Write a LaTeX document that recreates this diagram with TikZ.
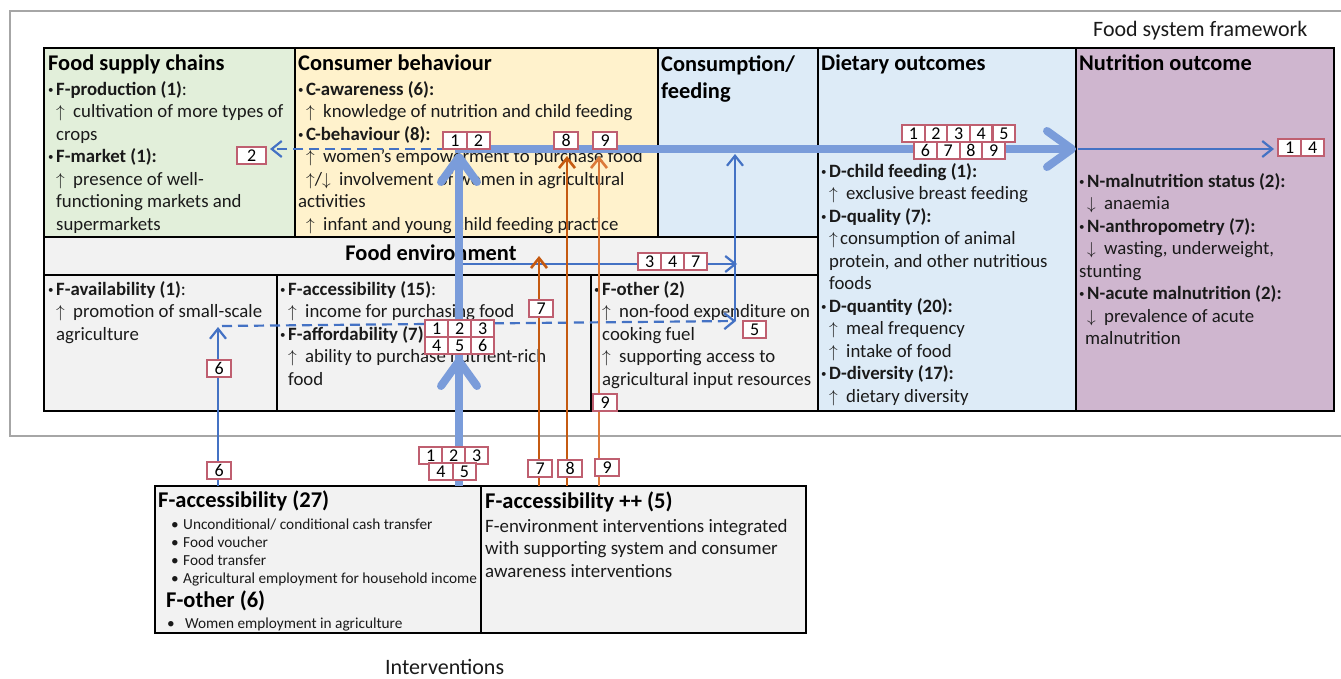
\documentclass[tikz,border=0pt]{standalone}
\usepackage{fontspec}
\setmainfont{Carlito}
\usetikzlibrary{arrows.meta}
\definecolor{cgreen}{HTML}{E2EFDA}
\definecolor{cyellow}{HTML}{FFF2CC}
\definecolor{cblue}{HTML}{DDEBF7}
\definecolor{cpurple}{HTML}{CFB6CF}
\definecolor{cgray}{HTML}{F2F2F2}
\definecolor{cframe}{HTML}{A6A6A6}
\definecolor{bthick}{HTML}{7A9CDA}
\definecolor{bthin}{HTML}{4472C4}
\definecolor{corange}{HTML}{C55A11}
\definecolor{corangeb}{HTML}{DC7A3A}
\definecolor{clbl}{HTML}{BF5F70}
\definecolor{ctxt}{HTML}{1A1A1A}
\newcommand\myup{\makebox[17pt][l]{$\uparrow$}}
\newcommand\mydn{\makebox[17pt][l]{$\downarrow$}}
\newcommand\myupc{\makebox[11pt][l]{$\uparrow$}}
\newcommand\mybul[1]{\makebox[8pt][l]{\raisebox{2pt}{\fontsize{11}{11}\selectfont\textbullet}}\textbf{#1}}
\newcommand\ind{\hspace*{8pt}}
\newcommand\cellrow[5]{\foreach \lab [count=\cc from 0] in {#5}{\node[lbl, minimum width=#4pt] (#1\lab) at ({#2+\cc*#4},#3) {\lab};}}
\tikzset{
 box/.style={draw=black, line width=1.8pt},
 body/.style={anchor=north west, inner sep=0pt, align=left, text=ctxt, font=\fontsize{18.8}{22.5}\selectfont},
 ttl/.style={anchor=base west, inner sep=0pt, text=black, font=\fontsize{22.4}{27}\selectfont\bfseries},
 lbl/.style={draw=clbl, line width=2.2pt, fill=white, minimum height=17pt, inner sep=0pt, anchor=north west, text=black, font=\fontsize{18}{18}\selectfont},
 thinb/.style={draw=bthin, line width=2.2pt, -{Straight Barb[length=10pt,width=16pt]}},
 dashb/.style={thinb, dash pattern=on 10pt off 6pt},
 orar/.style={draw=corange, line width=2.6pt, -{Straight Barb[length=10pt,width=16pt]}},
 thickb/.style={draw=bthick, line width=8pt, -{Straight Barb[length=25pt,width=36pt,round]}},
}
\begin{document}
\begin{tikzpicture}[x=1pt,y=-1pt]
\useasboundingbox (0,0) rectangle (1341,679);
% outer frame
\draw[cframe, line width=2.4pt] (1360,11) -- (10,11) -- (10,436) -- (1360,436);
\node[anchor=base west, inner sep=0pt, text=ctxt, font=\fontsize{22}{26}\selectfont] (fsf) at (1093,37) {Food system framework};
% boxes
\draw[box, fill=cgreen] (44,48) rectangle (295,237);
\draw[box, fill=cyellow] (295,48) rectangle (658,237);
\draw[box, fill=cblue] (658,48) rectangle (818,237);
\draw[box, fill=cblue] (818,48) rectangle (1076,411);
\draw[box, fill=cpurple] (1076,48) rectangle (1334,411);
\draw[box, fill=cgray] (44,237) rectangle (818,275);
\draw[box, fill=cgray] (44,275) rectangle (277,411);
\draw[box, fill=cgray] (277,275) rectangle (591,411);
\draw[box, fill=cgray] (591,275) rectangle (818,411);
% titles
\node[ttl] (fsc-t) at (48,71) {Food supply chains};
\node[ttl] (cb-t) at (298,71) {Consumer behaviour};
\node[ttl, anchor=north west, align=left] (cf-t) at (661,52.1) {\strut Consumption/\\feeding};
\node[ttl] (do-t) at (821,71) {Dietary outcomes};
\node[ttl] (no-t) at (1079,71) {Nutrition outcome};
\node[ttl, anchor=base] (fe-t) at (431,260) {Food environment};
% bodies
\node[body] (fsc-b) at (48,79.25) {\strut\mybul{F-production (1)}:\\
\ind\myup cultivation of more types of\\
\ind crops\\
\mybul{F-market (1):}\\
\ind\myup presence of well-\\
\ind functioning markets and\\
\ind supermarkets};
\node[body] (cb-b) at (298,79.25) {\strut\mybul{C-awareness (6):}\\
\ind\myup knowledge of nutrition and child feeding\\
\mybul{C-behaviour (8):}\\
\ind\myup women's empowerment to purchase food\\
\ind$\uparrow$/\mydn involvement of women in agricultural\\
activities\\
\ind\myup infant and young child feeding practice};
\node[body] (do-b) at (821,161.25) {\strut\mybul{D-child feeding (1):}\\
\ind\myup exclusive breast feeding\\
\mybul{D-quality (7):}\\
\ind\myupc consumption of animal\\
\ind protein, and other nutritious\\
\ind foods\\
\mybul{D-quantity (20):}\\
\ind\myup meal frequency\\
\ind\myup intake of food\\
\mybul{D-diversity (17):}\\
\ind\myup dietary diversity};
\node[body] (no-b) at (1079,171.25) {\strut\mybul{N-malnutrition status (2):}\\
\ind\mydn anaemia\\
\mybul{N-anthropometry (7):}\\
\ind\mydn wasting, underweight,\\
stunting\\
\mybul{N-acute malnutrition (2):}\\
\ind\mydn prevalence of acute\\
\hspace*{6pt}malnutrition};
\node[body] (fav-b) at (48,279.25) {\strut\mybul{F-availability (1)}:\\
\ind\myup promotion of small-scale\\
\ind agriculture};
\node[body] (fac-b) at (280,279.25) {\strut\mybul{F-accessibility (15)}:\\
\ind\myup income for purchasing food\\
\mybul{F-affordability (7):}\\
\ind\myup ability to purchase nutrient-rich\\
\ind food};
\node[body] (fot-b) at (594,279.25) {\strut\mybul{F-other (2)}\\
\ind\myup non-food expenditure on\\
\ind cooking fuel\\
\ind\myup supporting access to\\
\ind agricultural input resources};
% intervention boxes
\draw[box, fill=cgray] (155,486) rectangle (481,633);
\draw[box, fill=cgray] (481,486) rectangle (806,633);
\node[ttl, font=\fontsize{22.5}{27}\selectfont\bfseries] (ia-t) at (158,507) {F-accessibility (27)};
\node[body, font=\fontsize{15.3}{18}\selectfont] (ia-b) at (171,516.4) {\strut\makebox[12pt][l]{\textbullet}Unconditional/ conditional cash transfer\\
\makebox[12pt][l]{\textbullet}Food voucher\\
\makebox[12pt][l]{\textbullet}Food transfer\\
\makebox[12pt][l]{\textbullet}Agricultural employment for household income};
\node[ttl, font=\fontsize{22.5}{27}\selectfont\bfseries] (io-t) at (166,607) {F-other (6)};
\node[anchor=base west, inner sep=0pt, text=ctxt, font=\fontsize{15.3}{18}\selectfont] (io-b) at (167,628) {\makebox[18pt][l]{\textbullet}Women employment in agriculture};
\node[ttl, font=\fontsize{22.5}{27}\selectfont\bfseries] (ib-t) at (485,508) {F-accessibility ++ (5)};
\node[body, font=\fontsize{18.9}{22.5}\selectfont] (ib-b) at (485,516.25) {\strut F-environment interventions integrated\\
with supporting system and consumer\\
awareness interventions};
\node[anchor=base west, inner sep=0pt, text=ctxt, font=\fontsize{22}{26}\selectfont] (intv) at (385,674) {Interventions};
% coordinates
\coordinate (s6) at (218,486); \coordinate (e6) at (218,327);
\coordinate (d6) at (222,326); \coordinate (d5) at (736,321);
\coordinate (v5) at (735,321); \coordinate (v5e) at (735,154);
\coordinate (h3) at (459,264); \coordinate (h3e) at (737,264);
\coordinate (d2s) at (447,149); \coordinate (d2e) at (270,149);
\coordinate (s7) at (539,486); \coordinate (e7) at (539,256);
\coordinate (s8) at (567,486); \coordinate (e8) at (567,156);
\coordinate (s9) at (599,486); \coordinate (e9) at (599,156);
\coordinate (tv) at (459,486); \coordinate (tva) at (459,357); \coordinate (tvb) at (459,153);
\coordinate (th) at (455,149); \coordinate (the) at (1076,149);
\coordinate (nh) at (1078,149); \coordinate (nhe) at (1274,149);
% arrows
\draw[thinb] (s6) -- (e6);
\draw[dashb] (d6) -- (d5);
\draw[dashb] (d2s) -- (d2e);
\draw[thinb] (v5) -- (v5e);
\draw[thinb] (h3) -- (h3e);
\draw[thinb] (nh) -- (nhe);
\draw[orar] (s7) -- (e7);
\draw[orar] (s8) -- (e8);
\draw[orar, draw=corangeb] (s9) -- (e9);
\draw[thickb] (tv) -- (tva);
\draw[thickb] (tv) -- (tvb);
\draw[thickb] (th) -- (the);
% labels
\cellrow{lb}{236}{146}{29}{2}
\cellrow{cb}{442}{131}{23.5}{1,2}
\cellrow{ce}{553}{131}{24}{8}
\cellrow{cn}{592}{131}{24}{9}
\cellrow{da}{901}{124}{22.6}{1,2,3,4,5}
\cellrow{db}{913}{141}{22.75}{6,7,8,9}
\cellrow{nu}{1277}{138}{23}{1,4}
\cellrow{fe}{637}{252}{23}{3,4,7}
\cellrow{ms}{528}{299}{24}{7}
\cellrow{aa}{424}{319}{23}{1,2,3}
\cellrow{ab}{424}{336}{23}{4,5,6}
\cellrow{mf}{742}{320}{23}{5}
\cellrow{mx}{206}{359}{24}{6}
\cellrow{mn}{592}{393}{24}{9}
\cellrow{ba}{418}{446}{23}{1,2,3}
\cellrow{bb}{428}{462}{23.5}{4,5}
\cellrow{bx}{206}{461}{24}{6}
\cellrow{bs}{527}{459}{24}{7}
\cellrow{be}{557}{459}{24}{8}
\cellrow{bn}{594}{458}{24}{9}
\end{tikzpicture}
\end{document}
